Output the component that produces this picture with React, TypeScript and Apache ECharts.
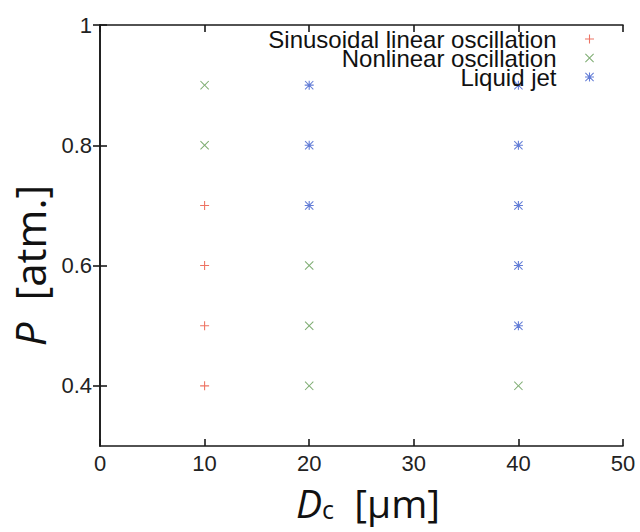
import React, { useEffect, useRef } from "react";
import * as echarts from "echarts";

const seriesNames = ["Sinusoidal linear oscillation", "Nonlinear oscillation", "Liquid jet"];
const sinusoidal: [number, number][] = [[10, 0.7], [10, 0.6], [10, 0.5], [10, 0.4]];
const nonlinear: [number, number][] = [[10, 0.9], [10, 0.8], [20, 0.6], [20, 0.5], [20, 0.4], [40, 0.4]];
const liquidJet: [number, number][] = [[20, 0.9], [20, 0.8], [20, 0.7], [40, 0.9], [40, 0.8], [40, 0.7], [40, 0.6], [40, 0.5]];
const xTickValues = [0, 10, 20, 30, 40, 50];
const yTickValues = [0.4, 0.6, 0.8, 1];

const PLUS = "path://M4.4,0 H5.6 V4.4 H10 V5.6 H5.6 V10 H4.4 V5.6 H0 V4.4 H4.4 Z";
const CROSS = "path://M0,0.8 L0.8,0 L5,4.2 L9.2,0 L10,0.8 L5.8,5 L10,9.2 L9.2,10 L5,5.8 L0.8,10 L0,9.2 L4.2,5 Z";
const STAR = "path://M4.4,0 H5.6 V4.4 H10 V5.6 H5.6 V10 H4.4 V5.6 H0 V4.4 H4.4 Z M0,0.8 L0.8,0 L5,4.2 L9.2,0 L10,0.8 L5.8,5 L10,9.2 L9.2,10 L5,5.8 L0.8,10 L0,9.2 L4.2,5 Z";

const colors = ["#e8503c", "#5f9950", "#3c5ccc"];
const lineColor = "#1a1a1a";
const tickFont = "Liberation Sans, Arial, sans-serif";
const titleFont = "Open Sans, Noto Sans, sans-serif";

export default function App() {
  const ref = useRef<HTMLDivElement>(null);
  useEffect(() => {
    if (!ref.current) return;
    const chart = echarts.init(ref.current, null, { renderer: "svg" });
    const axisLine = { show: true, lineStyle: { color: lineColor, width: 1.6 } };
    const tickCommon = { show: true, inside: true, length: 7, lineStyle: { color: lineColor, width: 1.6 } };
    chart.setOption({
      animation: false,
      backgroundColor: "#ffffff",
      grid: { left: 100, right: 17, top: 25, bottom: 86, outerBoundsMode: "none", containLabel: false },
      legend: {
        orient: "vertical",
        right: 41,
        top: 22,
        align: "right",
        itemWidth: 56,
        itemHeight: 9,
        itemGap: -5,
        data: seriesNames,
        textStyle: { fontSize: 24, fontFamily: tickFont, color: "#111" },
      },
      xAxis: [
        {
          type: "value",
          min: 0,
          max: 50,
          interval: 10,
          position: "bottom",
          axisLine,
          axisTick: { ...tickCommon, customValues: xTickValues },
          axisLabel: { customValues: xTickValues, fontSize: 22, fontFamily: tickFont, color: "#222", margin: 6 },
          splitLine: { show: false },
          name: "{i|D}{s|c}  [μm]",
          nameLocation: "middle",
          nameGap: 37,
          nameTextStyle: {
            fontFamily: titleFont,
            fontSize: 39,
            color: "#111",
            padding: [0, 0, 0, 13],
            rich: {
              i: { fontStyle: "italic", fontSize: 39, fontFamily: titleFont, color: "#111" },
              s: { fontSize: 25, fontFamily: titleFont, color: "#111", padding: [12, 0, 0, 0] },
            },
          },
        },
        {
          type: "value",
          min: 0,
          max: 50,
          interval: 10,
          position: "top",
          axisLine,
          axisTick: { ...tickCommon, customValues: xTickValues },
          axisLabel: { show: false },
          splitLine: { show: false },
        },
      ],
      yAxis: [
        {
          type: "value",
          min: 0.3,
          max: 1,
          interval: 0.1,
          position: "left",
          axisLine,
          axisTick: { ...tickCommon, customValues: yTickValues },
          axisLabel: {
            customValues: yTickValues,
            fontSize: 22,
            fontFamily: tickFont,
            color: "#222",
            margin: 8,
            formatter: (v: number) => (v === 1 ? "1" : String(v)),
          },
          splitLine: { show: false },
          name: "{i|P}  [atm.]",
          nameLocation: "middle",
          nameGap: 50,
          nameTextStyle: {
            fontFamily: titleFont,
            fontSize: 42,
            color: "#111",
            padding: [0, 60, 0, 0],
            rich: {
              i: { fontStyle: "italic", fontSize: 42, fontFamily: titleFont, color: "#111" },
            },
          },
        },
        {
          type: "value",
          min: 0.3,
          max: 1,
          interval: 0.1,
          position: "right",
          axisLine,
          axisTick: { ...tickCommon, customValues: yTickValues },
          axisLabel: { show: false },
          splitLine: { show: false },
        },
      ],
      series: [
        {
          name: seriesNames[0],
          type: "scatter",
          data: sinusoidal,
          symbol: PLUS,
          symbolSize: 9,
          itemStyle: { color: colors[0] },
        },
        {
          name: seriesNames[1],
          type: "scatter",
          data: nonlinear,
          symbol: CROSS,
          symbolSize: 9,
          itemStyle: { color: colors[1] },
        },
        {
          name: seriesNames[2],
          type: "scatter",
          data: liquidJet,
          symbol: STAR,
          symbolSize: 9,
          itemStyle: { color: colors[2] },
        },
      ],
    });
    return () => chart.dispose();
  }, []);
  return <div ref={ref} style={{ position: "fixed", left: 0, top: 0, width: 640, height: 532 }} />;
}
